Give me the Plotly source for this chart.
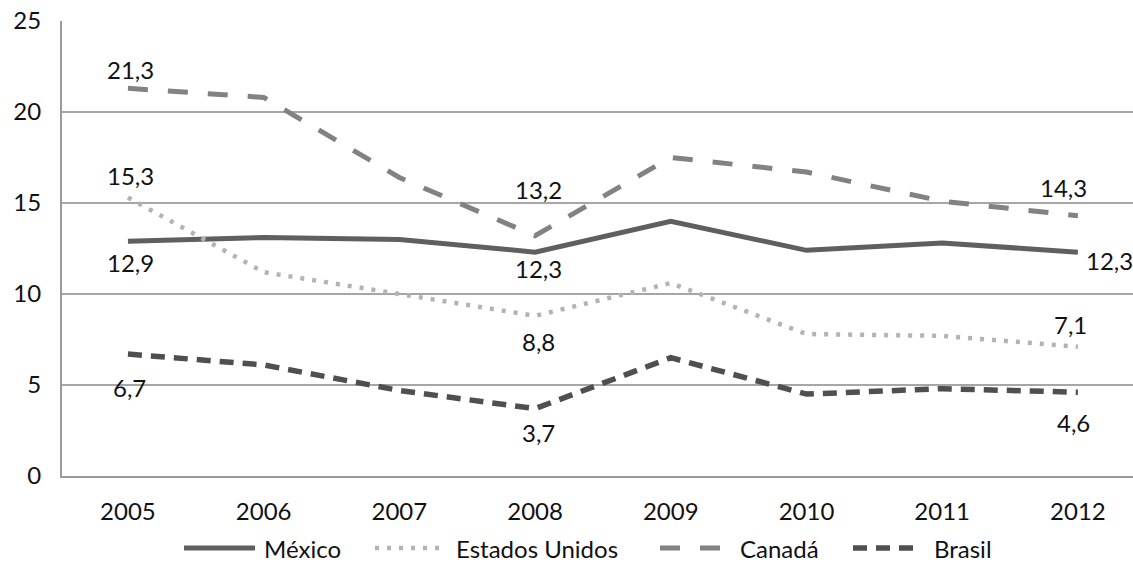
import plotly.graph_objects as go

# Series data
years = ["2005", "2006", "2007", "2008", "2009", "2010", "2011", "2012"]
mexico = [12.9, 13.1, 13.0, 12.3, 14.0, 12.4, 12.8, 12.3]
estados_unidos = [15.3, 11.2, 10.0, 8.8, 10.6, 7.8, 7.7, 7.1]
canada = [21.3, 20.8, 16.4, 13.2, 17.5, 16.7, 15.1, 14.3]
brasil = [6.7, 6.1, 4.7, 3.7, 6.5, 4.5, 4.8, 4.6]
y_ticks = [0, 5, 10, 15, 20, 25]

FONT = "Lato"
FS = 24
W, H = 1133, 577
M_L, M_R, M_T, M_B = 62, 0, 21, 101
PW, PH = W - M_L - M_R, H - M_T - M_B

series = [
    dict(name="México", y=mexico, color="#5f5f5f", width=5, dash="solid"),
    dict(name="Estados Unidos", y=estados_unidos, color="#b3b3b3", width=4.5, dash="4px,8px"),
    dict(name="Canadá", y=canada, color="#828282", width=5, dash="20px,20px"),
    dict(name="Brasil", y=brasil, color="#4f4f4f", width=5.5, dash="14px,9px"),
]

# Which points carry a value label, and the label offset in px (dx, dy; dy>0 moves up)
labels = {
    "Canadá": [(0, 3, 19), (3, 3, 46), (7, -14, 28)],
    "Estados Unidos": [(0, 3, 22), (3, 3, -26), (7, -7, 22)],
    "México": [(0, 3, -21), (3, 3, -16), (7, 32, -8)],
    "Brasil": [(0, 2, -33), (3, 3, -24), (7, -4, -30)],
}

fig = go.Figure()
annotations = []
shapes = []

for s in series:
    fig.add_trace(go.Scatter(
        x=list(range(len(years))), y=s["y"], name=s["name"], mode="lines",
        line=dict(color=s["color"], width=s["width"], dash=s["dash"]),
        showlegend=False, hoverinfo="skip",
    ))
    for idx, dx, dy in labels[s["name"]]:
        annotations.append(dict(
            x=idx, y=s["y"][idx], xref="x", yref="y",
            text=f"{s['y'][idx]:.1f}".replace(".", ","),
            showarrow=False, xshift=dx, yshift=dy,
            font=dict(family=FONT, size=FS, color="#111111"),
        ))

# Legend row drawn below the axis
legend_pos = [(184, 255, 262), (375, 440, 454), (660, 724, 738), (853, 918, 932)]
ly = (PH - (548 - M_T)) / PH
for s, (x0, x1, xt) in zip(series, legend_pos):
    shapes.append(dict(
        type="line", xref="paper", yref="paper",
        x0=(x0 - M_L) / PW, x1=(x1 - M_L) / PW, y0=ly, y1=ly,
        line=dict(color=s["color"], width=s["width"], dash=s["dash"]),
    ))
    annotations.append(dict(
        x=(xt - M_L) / PW, y=ly, xref="paper", yref="paper",
        text=s["name"], showarrow=False, xanchor="left", yanchor="middle",
        font=dict(family=FONT, size=FS, color="#111111"),
    ))

fig.update_layout(
    width=W, height=H,
    margin=dict(l=M_L, r=M_R, t=M_T, b=M_B),
    paper_bgcolor="white", plot_bgcolor="white",
    font=dict(family=FONT, size=FS, color="#111111"),
    annotations=annotations, shapes=shapes,
    showlegend=False,
)
fig.update_xaxes(
    range=[-0.486, 7.406],
    tickvals=list(range(len(years))), ticktext=years,
    showgrid=False, showline=True, linecolor="#9a9a9a", linewidth=2,
    ticks="", ticklabelstandoff=13, tickfont=dict(family=FONT, size=FS, color="#111111"),
    zeroline=False,
)
fig.update_yaxes(
    range=[0, 25], tickvals=y_ticks,
    showgrid=True, gridcolor="#a6a6a6", gridwidth=1.5,
    showline=True, linecolor="#9a9a9a", linewidth=2,
    ticks="", ticklabelstandoff=14, tickfont=dict(family=FONT, size=FS, color="#111111"),
    zeroline=False,
)

fig.write_html("out.html")
